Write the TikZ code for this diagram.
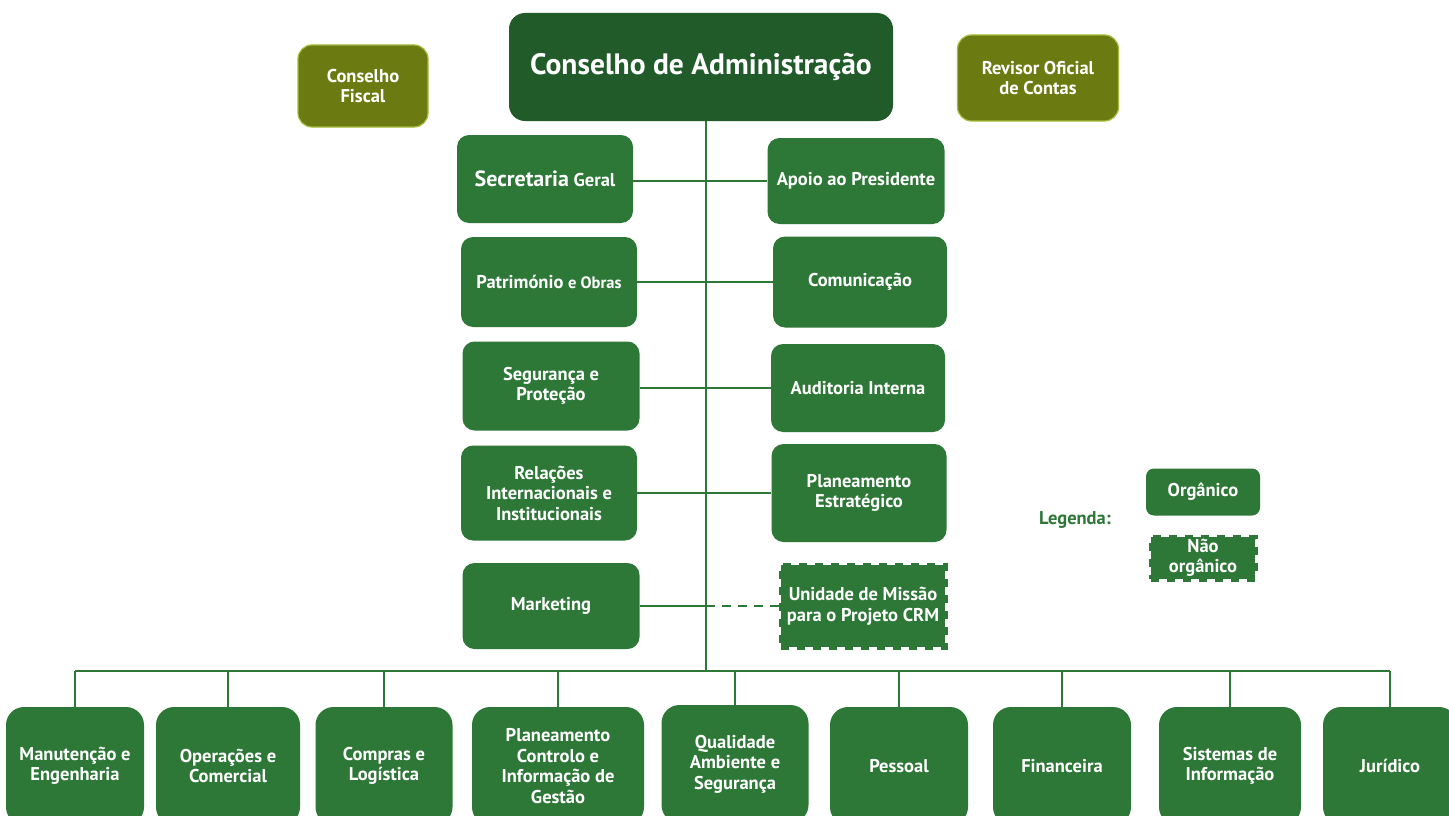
\documentclass[tikz,border=0pt]{standalone}
\usepackage{fontspec}
\setmainfont{PT Sans}
\usetikzlibrary{positioning,calc}
\definecolor{orggreen}{HTML}{2D7737}
\definecolor{topgreen}{HTML}{215B2A}
\definecolor{olivefill}{HTML}{6B7B11}
\definecolor{oliveedge}{HTML}{A4BC3A}
\tikzset{
    unitbox/.style={
        rectangle,
        fill=orggreen,
        text=white,
        align=center,
        rounded corners=12pt,
        font=\bfseries\fontsize{18.5}{20.5}\selectfont
    },
    topbox/.style={
        unitbox,
        fill=topgreen,
        rounded corners=16pt,
        font=\bfseries\fontsize{29.5}{32}\selectfont
    },
    olivebox/.style={
        unitbox,
        fill=olivefill,
        draw=oliveedge,
        line width=1.2pt,
        rounded corners=14pt
    },
    naobox/.style={ % stamp-like edge for the non organic units
        unitbox,
        rounded corners=0pt,
        draw=orggreen,
        line width=5pt,
        dash pattern=on 8pt off 8pt
    },
    dept/.style={
        unitbox,
        minimum width=138,
        minimum height=118,
        rounded corners=18pt
    },
    link/.style={
        draw=orggreen,
        line width=1.6pt
    }
}

\begin{document}
\begin{tikzpicture}[x=1pt, y=-1pt]
        \clip (0,0) rectangle (1449,816);
        \useasboundingbox (0,0) rectangle (1449,816);
        \fill[white] (0,0) rectangle (1449,816);

        % Top
        \node (ca) [topbox, minimum width=384, minimum height=108] at (701,67) {Conselho de Administração};
        \node (cf) [olivebox, minimum width=130, minimum height=82] at (363,86) {Conselho\\Fiscal};
        \node (roc) [olivebox, minimum width=161, minimum height=86] at (1038,78) {Revisor Oficial\\de Contas};

        % Staff units
        \node (sg) [unitbox, minimum width=176, minimum height=88] at (545,179) {{\fontsize{22}{24}\selectfont Secretaria} Geral};
        \node (ap) [unitbox, minimum width=177, minimum height=86] at (856,181) {Apoio ao Presidente};
        \node (po) [unitbox, minimum width=176, minimum height=90] at (549,282) {Património {\fontsize{16.5}{19}\selectfont e Obras}};
        \node (com) [unitbox, minimum width=174, minimum height=91] at (860,282) {Comunicação};
        \node (sp) [unitbox, minimum width=177, minimum height=89] at (551,386) {Segurança e\\Proteção};
        \node (ai) [unitbox, minimum width=174, minimum height=88] at (858,388) {Auditoria Interna};
        \node (ri) [unitbox, minimum width=176, minimum height=95] at (549,493) {Relações\\Internacionais e\\Institucionais};
        \node (pe) [unitbox, minimum width=175, minimum height=98] at (859,493) {Planeamento\\Estratégico};
        \node (mk) [unitbox, minimum width=177, minimum height=86] at (551,606) {Marketing};
        \node (um) [naobox, minimum width=164, minimum height=82] at (863,606) {Unidade de Missão\\para o Projeto CRM};

        % Legend
        \node (leg) [text=orggreen, font=\bfseries\fontsize{18.5}{20.5}\selectfont] at (1075,520) {Legenda:};
        \node (lorg) [unitbox, rounded corners=8pt, minimum width=114, minimum height=47] at (1203,492) {Orgânico};
        \node (lnao) [naobox, minimum width=104, minimum height=42, inner sep=0pt] at (1203,558) {Não\\orgânico};

        % Departments
        \node (man) [dept] at (75,766) {Manutenção e\\Engenharia};
        \node (ope) [dept, minimum width=144] at (228,766) {Operações e\\Comercial};
        \node (cpl) [dept, minimum width=137] at (384,766) {Compras e\\Logística};
        \node (pci) [dept, minimum width=172] at (558,766) {Planeamento\\Controlo e\\Informação de\\Gestão};
        \node (qas) [dept, minimum width=147] at (735,764) {Qualidade\\Ambiente e\\Segurança};
        \node (pes) [dept] at (899,766) {Pessoal};
        \node (fin) [dept] at (1062,766) {Financeira};
        \node (si) [dept, minimum width=142] at (1230,766) {Sistemas de\\Informação};
        \node (jur) [dept, minimum width=134] at (1390,766) {Jurídico};

        % Lines
        \coordinate (bus) at (706,671);
        \draw[link] (ca.south -| bus) -- (bus);
        \draw[link] (sg.east |- ap.west) -- (ap.west);
        \draw[link] (po.east) -- (com.west);
        \draw[link] (sp.east |- ai.west) -- (ai.west);
        \draw[link] (ri.east) -- (pe.west);
        \draw[link] (mk.east) -- (mk.east -| bus);
        \draw[link, dashed, dash pattern=on 9pt off 7pt] (mk.east -| bus) -- (um.west);
        \draw[link] (man.north |- bus) -- (jur.north |- bus);
        \foreach \d in {man,ope,cpl,pci,qas,pes,fin,si,jur}
            \draw[link] (\d.north) -- (\d.north |- bus);
    \end{tikzpicture}
\end{document}
